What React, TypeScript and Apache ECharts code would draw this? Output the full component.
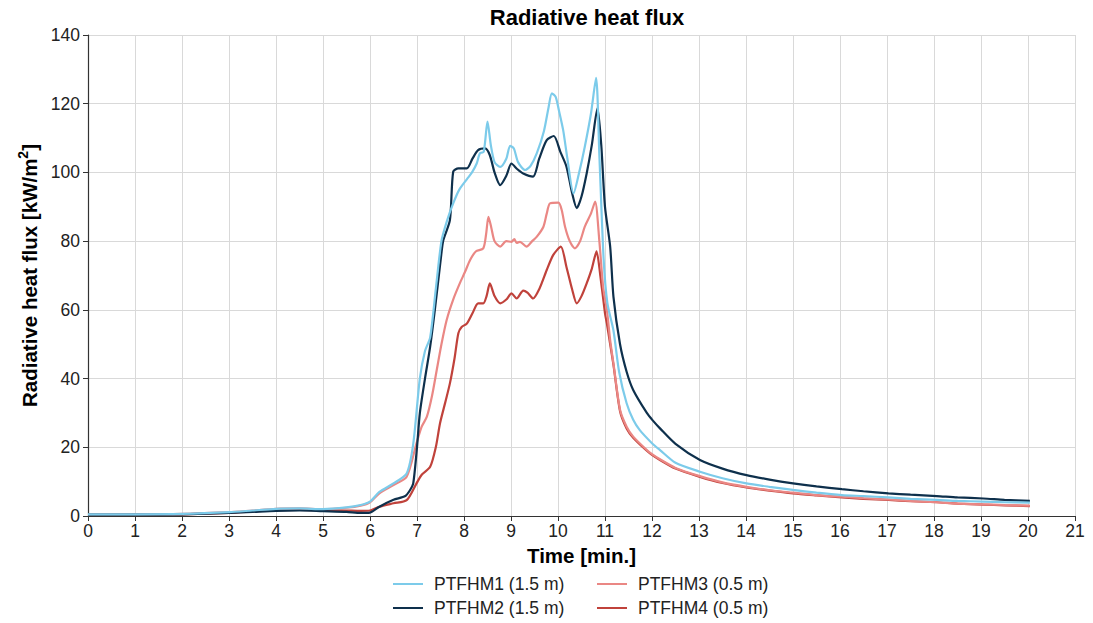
import React, { useEffect, useRef } from "react";
import * as echarts from "echarts";

const seriesNames = ["PTFHM1 (1.5 m)", "PTFHM2 (1.5 m)", "PTFHM3 (0.5 m)", "PTFHM4 (0.5 m)"];
const seriesColors = ["#7ccbea", "#0e304c", "#ea8784", "#c0423b"];

const ptfhm1: number[][] = [
  [0, 0.5], [1, 0.5], [2, 0.6], [3, 1.1], [3.5, 1.6], [4, 2.1], [4.5, 2.2], [5, 2.0], [5.5, 2.5], [5.8, 3.2],
  [6.0, 4.2], [6.2, 7.0], [6.5, 9.5], [6.78, 12.4], [6.92, 21], [7.06, 40], [7.17, 48], [7.28, 52], [7.4, 66],
  [7.52, 80], [7.64, 86], [7.77, 91], [7.9, 95], [8.06, 98], [8.17, 100], [8.27, 102.6], [8.34, 105.6], [8.42, 106],
  [8.5, 114.8], [8.57, 108], [8.65, 103], [8.77, 101.6], [8.9, 104], [8.98, 107.7], [9.06, 107], [9.15, 103],
  [9.3, 100.7], [9.42, 102], [9.55, 105.6], [9.7, 112], [9.8, 119], [9.87, 123], [9.95, 122], [10.02, 118],
  [10.11, 112.3], [10.2, 104], [10.33, 93.9], [10.45, 100], [10.57, 107.5], [10.7, 117], [10.81, 127.5],
  [10.88, 105], [10.97, 75], [11.05, 62], [11.18, 54], [11.3, 42], [11.46, 32.8], [11.6, 28], [11.74, 25],
  [12.0, 21.2], [12.17, 19.2], [12.5, 15.5], [13.02, 12.9], [13.5, 11], [14.01, 9.5], [14.5, 8.5], [15, 7.6],
  [15.5, 6.8], [16.04, 6.1], [16.5, 5.8], [17.03, 5.4], [17.5, 5.0], [18.06, 4.7], [18.5, 4.4], [19.05, 4.2],
  [19.5, 4.0], [20.04, 3.9],
];

const ptfhm2: number[][] = [
  [0, 0.4], [1, 0.4], [2, 0.5], [3, 0.9], [3.5, 1.2], [4, 1.5], [4.5, 1.6], [5, 1.4], [5.5, 1.2], [5.8, 0.9],
  [6.0, 1.0], [6.2, 2.7], [6.5, 4.7], [6.75, 5.8], [6.85, 7.5], [6.92, 9.5], [7.0, 20], [7.06, 29.9], [7.17, 40],
  [7.28, 49.3], [7.38, 60], [7.52, 76.5], [7.56, 80.3], [7.7, 86.1], [7.77, 100.2], [7.88, 101.2], [8.06, 101.2],
  [8.18, 104], [8.3, 106.5], [8.45, 107], [8.55, 105], [8.65, 100], [8.77, 96.3], [8.9, 99], [9.01, 102.6],
  [9.13, 101], [9.26, 99.7], [9.47, 98.8], [9.6, 104], [9.76, 109.4], [9.91, 110.6], [10.05, 106], [10.18, 101.7],
  [10.3, 94], [10.4, 89.6], [10.5, 93], [10.61, 99.7], [10.72, 108], [10.84, 118.7], [10.92, 108], [11.0, 90],
  [11.11, 78.4], [11.18, 63.8], [11.32, 50], [11.46, 42], [11.6, 36.7], [11.89, 30], [12.01, 27.9], [12.17, 25.5],
  [12.5, 21], [13.02, 16.3], [13.5, 13.8], [14.01, 11.9], [14.5, 10.6], [15, 9.5], [15.5, 8.6], [16.04, 7.8],
  [16.5, 7.2], [17.03, 6.6], [17.5, 6.2], [18.06, 5.8], [18.5, 5.4], [19.05, 5.1], [19.5, 4.7], [20.04, 4.4],
];

const ptfhm3: number[][] = [
  [0, 0.5], [1, 0.5], [2, 0.6], [3, 1.1], [3.5, 1.6], [4, 2.1], [4.5, 2.2], [5, 2.0], [5.5, 2.4], [5.8, 3.0],
  [6.0, 4.0], [6.2, 6.6], [6.5, 9.0], [6.78, 11.4], [6.99, 21.2], [7.1, 26], [7.21, 28.9], [7.32, 35], [7.42, 42.5],
  [7.52, 50], [7.63, 57], [7.77, 63], [7.91, 67.7], [8.02, 71], [8.13, 74.5], [8.25, 77], [8.41, 77.9], [8.47, 82],
  [8.52, 87.1], [8.58, 84], [8.65, 80], [8.77, 78.4], [8.9, 80], [9.01, 79.8], [9.07, 80.6], [9.12, 79.5],
  [9.19, 79.8], [9.33, 78.4], [9.45, 80], [9.55, 81.3], [9.69, 84.2], [9.76, 88], [9.83, 91], [10.01, 91.2],
  [10.08, 89], [10.15, 84.2], [10.25, 80], [10.36, 77.9], [10.47, 80], [10.57, 84.2], [10.7, 88], [10.79, 91.5],
  [10.88, 80], [10.96, 66.7], [11.04, 60], [11.11, 51.2], [11.18, 44.4], [11.32, 30.9], [11.46, 26], [11.6, 23.1],
  [11.89, 19.2], [12.0, 18], [12.17, 16.5], [12.5, 14], [13.02, 11.6], [13.5, 9.8], [14.01, 8.5], [14.5, 7.5],
  [15, 6.8], [15.5, 6.1], [16.04, 5.6], [16.5, 5.2], [17.03, 4.8], [17.5, 4.4], [18.06, 4.0], [18.5, 3.6],
  [19.05, 3.4], [19.5, 3.2], [20.04, 3.0],
];

const ptfhm4: number[][] = [
  [0, 0.4], [1, 0.4], [2, 0.5], [3, 0.9], [3.5, 1.3], [4, 1.7], [4.5, 1.8], [5, 1.7], [5.5, 1.6], [5.8, 1.5],
  [6.0, 1.6], [6.2, 2.7], [6.5, 3.7], [6.78, 4.6], [6.99, 9.5], [7.1, 12], [7.28, 14.3], [7.4, 20], [7.49, 27],
  [7.6, 33], [7.7, 38.6], [7.8, 46], [7.88, 53.2], [7.95, 55], [8.06, 56], [8.18, 59], [8.3, 61.9], [8.41, 61.9],
  [8.48, 64], [8.55, 67.7], [8.65, 64], [8.77, 61.9], [8.9, 63], [9.01, 64.8], [9.12, 63.3], [9.26, 65.6],
  [9.35, 65], [9.47, 63.3], [9.6, 66], [9.76, 71.6], [9.9, 76], [10.06, 78.4], [10.18, 72.5], [10.3, 66],
  [10.4, 61.9], [10.5, 64], [10.61, 67.7], [10.72, 72], [10.82, 77], [10.9, 70], [11.0, 59], [11.04, 56],
  [11.11, 50], [11.18, 44], [11.32, 30.5], [11.46, 25.5], [11.6, 22.8], [11.89, 19.0], [12.0, 17.8], [12.17, 16.3],
  [12.5, 13.8], [13.02, 11.4], [13.5, 9.6], [14.01, 8.3], [14.5, 7.4], [15, 6.6], [15.5, 6.0], [16.04, 5.4],
  [16.5, 5.0], [17.03, 4.7], [17.5, 4.3], [18.06, 4.0], [18.5, 3.6], [19.05, 3.3], [19.5, 3.1], [20.04, 2.9],
];

const allData = [ptfhm1, ptfhm2, ptfhm3, ptfhm4];

const FONT = "Liberation Sans, Arial, sans-serif";

export default function App() {
  const ref = useRef<HTMLDivElement>(null);
  useEffect(() => {
    if (!ref.current) return;
    const chart = echarts.init(ref.current, undefined, { renderer: "svg" });
    const legendCommon = {
      orient: "vertical" as const,
      padding: 0,
      height: 49,
      itemWidth: 30,
      itemHeight: 14,
      itemGap: 4,
      textStyle: { fontFamily: FONT, fontSize: 17.5, lineHeight: 20, color: "#222", padding: [0, 0, 0, 6] },
      icon: "path://M0,6 L30,6 L30,8 L0,8 Z",
    };
    chart.setOption({
      animation: false,
      backgroundColor: "#ffffff",
      textStyle: { fontFamily: FONT },
      title: {
        text: "Radiative heat flux",
        left: 582,
        textAlign: "center",
        top: 1,
        textStyle: { fontFamily: FONT, fontSize: 22, fontWeight: "bold", color: "#000" },
      },
      legend: [
        { ...legendCommon, left: 393, top: 574, data: [seriesNames[0], seriesNames[1]] },
        { ...legendCommon, left: 597, top: 574, data: [seriesNames[2], seriesNames[3]] },
      ],
      grid: { left: 88, right: 18, top: 35, bottom: 107, containLabel: false },
      xAxis: {
        type: "value",
        min: 0,
        max: 21,
        interval: 1,
        name: "Time [min.]",
        nameLocation: "middle",
        nameGap: 27,
        nameTextStyle: { fontFamily: FONT, fontSize: 20.5, fontWeight: "bold", color: "#000" },
        axisLine: { show: true, lineStyle: { color: "#333", width: 1.2 } },
        axisTick: { show: true, length: 5, lineStyle: { color: "#333" } },
        axisLabel: { fontFamily: FONT, fontSize: 17.5, color: "#222", margin: 6 },
        splitLine: { show: true, lineStyle: { color: "#d9d9d9", width: 1 } },
      },
      yAxis: {
        type: "value",
        min: 0,
        max: 140,
        interval: 20,
        name: "Radiative heat flux [kW/m{sup|2}]",
        nameLocation: "middle",
        nameRotate: 90,
        nameGap: 46,
        nameTextStyle: {
          fontFamily: FONT,
          fontSize: 20.5,
          fontWeight: "bold",
          color: "#000",
          rich: {
            sup: { fontFamily: FONT, fontSize: 14, fontWeight: "bold", color: "#000", verticalAlign: "top", padding: [0, 0, 12, 0] },
          },
        },
        axisLine: { show: true, lineStyle: { color: "#333", width: 1.2 } },
        axisTick: { show: true, length: 5, lineStyle: { color: "#333" } },
        axisLabel: { fontFamily: FONT, fontSize: 17.5, color: "#222", margin: 8 },
        splitLine: { show: true, lineStyle: { color: "#d9d9d9", width: 1 } },
      },
      series: allData.map((d, i) => ({
        name: seriesNames[i],
        type: "line",
        data: d,
        symbol: "none",
        showSymbol: false,
        smooth: 0.25,
        z: i === 0 ? 4 : i === 1 ? 3 : i === 2 ? 2 : 1,
        lineStyle: { color: seriesColors[i], width: 2.2 },
        itemStyle: { color: seriesColors[i] },
      })),
    });
    return () => chart.dispose();
  }, []);
  return <div ref={ref} style={{ width: 1093, height: 623, position: "absolute", left: 0, top: 0 }} />;
}
